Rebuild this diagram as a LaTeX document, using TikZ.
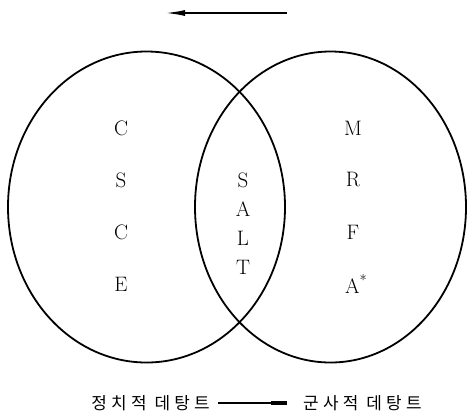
\documentclass[tikz,border=0pt]{standalone}
\usepackage{fontspec}
\newfontfamily\kr[LetterSpace=25]{Noto Sans CJK KR}
\usetikzlibrary{arrows.meta,shapes.geometric}
\tikzset{
  ring/.style={draw, ellipse, line width=1.8bp, inner sep=0pt},
  letter/.style={inner sep=0pt, font=\fontsize{21}{21}\selectfont},
  krtext/.style={inner sep=0pt, font=\fontsize{17}{17}\selectfont\kr},
  conn/.style={line width=1.2bp}
}
\begin{document}
\begin{tikzpicture}[x=1bp,y=-1bp]
\useasboundingbox (0,0) rectangle (468,417);
% circles
\node[ring, minimum width=277bp, minimum height=311bp] (left) at (146.5,207) {};
\node[ring, minimum width=271bp, minimum height=311bp] (right) at (330.5,207) {};
% left letters
\node[letter] (l1) at (121,128) {C};
\node[letter] (l2) at (121,180) {S};
\node[letter] (l3) at (121,232) {C};
\node[letter] (l4) at (121,284) {E};
% center letters
\node[letter] (c1) at (243,180) {S};
\node[letter] (c2) at (243,209) {A};
\node[letter] (c3) at (243,238) {L};
\node[letter] (c4) at (243,267) {T};
% right letters
\node[letter] (r1) at (353,128) {M};
\node[letter] (r2) at (353,180) {R};
\node[letter] (r3) at (353,232) {F};
\node[letter, anchor=west] (r4) at (345,284) {A\textsuperscript{*}};
% top arrow
\coordinate (ta) at (287,13);
\coordinate (tb) at (165,13);
\draw[line width=1.8bp, -{Latex[length=20bp,width=6bp]}] (ta) -- (tb);
% bottom texts
\node[krtext, anchor=east] (pol) at (210,403) {정치적\hspace{8bp}데탕트};
\node[krtext, anchor=west] (mil) at (303,403) {군사적\hspace{8bp}데탕트};
\draw[conn, -{Rectangle[length=16bp,width=4bp]}] ([xshift=8bp]pol.east) -- ([xshift=-16bp]mil.west);
\end{tikzpicture}
\end{document}
